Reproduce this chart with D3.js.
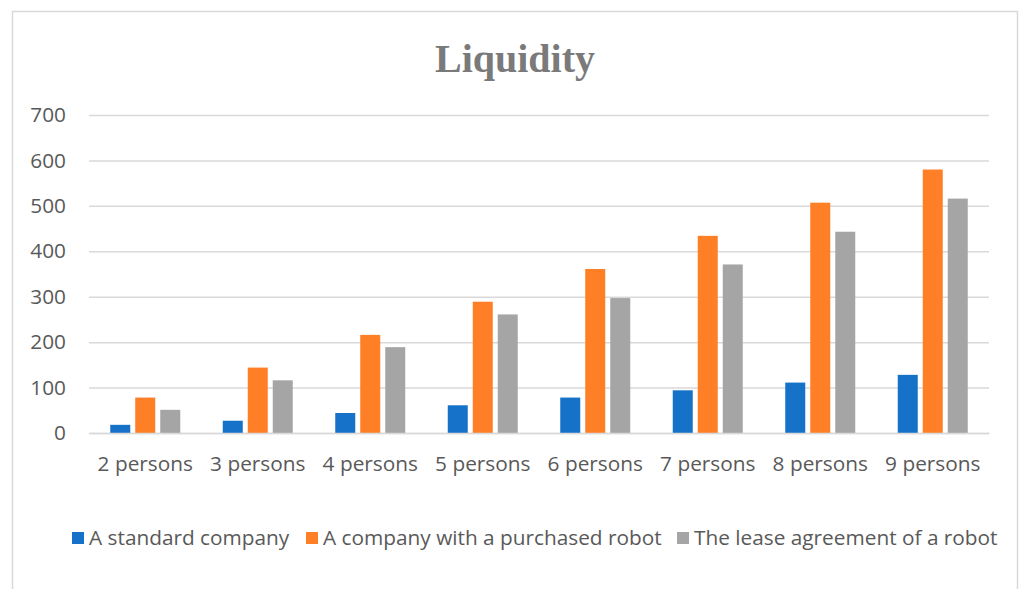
<!DOCTYPE html>
<html>
<head>
<meta charset="utf-8">
<script src="https://cdn.jsdelivr.net/npm/d3@7"></script>
<style>
  body { margin: 0; background: #fff; }
  svg { display: block; }
</style>
</head>
<body>
<script>
// data
const categories = ["2 persons","3 persons","4 persons","5 persons","6 persons","7 persons","8 persons","9 persons"];
const seriesNames = ["A standard company","A company with a purchased robot","The lease agreement of a robot"];
const standardCompany = [18, 27, 44, 61, 78, 94, 111, 128];
const purchasedRobot = [78, 144, 216, 289, 361, 434, 507, 580];
const leaseRobot = [51, 116, 189, 261, 297, 371, 443, 516];
const yTicks = [0, 100, 200, 300, 400, 500, 600, 700];

const seriesValues = [standardCompany, purchasedRobot, leaseRobot];
const colors = ["#1672c8", "#ff7f27", "#a5a5a5"];

const W = 1020, H = 589;
const svg = d3.select("body").append("svg")
  .attr("width", W)
  .attr("height", H);

// chart frame
svg.append("rect")
  .attr("x", 12.5).attr("y", 11.5)
  .attr("width", 1005).attr("height", 600)
  .attr("fill", "#fff")
  .attr("stroke", "#d9d9d9")
  .attr("stroke-width", 1.5);

svg.append("text")
  .attr("x", 515).attr("y", 72)
  .attr("text-anchor", "middle")
  .attr("font-family", "Liberation Serif")
  .attr("font-weight", "bold")
  .attr("font-size", "40px")
  .attr("fill", "#7a7a7a")
  .text("Liquidity");

const plotLeft = 89, plotRight = 989, plotTop = 115, plotBottom = 433;

const x0 = d3.scaleBand()
  .domain(categories)
  .range([plotLeft, plotRight])
  .padding(0);

const groupW = 70;
const off = (x0.bandwidth() - groupW) / 2;
const x1 = d3.scaleBand()
  .domain(d3.range(seriesNames.length))
  .range([off, off + groupW])
  .paddingInner(0.2);

const y = d3.scaleLinear()
  .domain([0, 700])
  .range([plotBottom, plotTop]);

const font = "Open Sans";
const fs = "20.8px";

// gridlines
const yAxis = d3.axisLeft(y)
  .tickValues(yTicks)
  .tickSize(-(plotRight - plotLeft))
  .tickPadding(23)
  .tickFormat(d3.format("d"));

const gy = svg.append("g")
  .attr("transform", `translate(${plotLeft},0)`)
  .call(yAxis);
gy.select(".domain").remove();
gy.selectAll(".tick line")
  .attr("stroke", "#d9d9d9")
  .attr("stroke-width", 1.5);
gy.selectAll(".tick text")
  .attr("font-family", font)
  .attr("font-size", fs)
  .attr("fill", "#595959");

// bars
const groups = svg.append("g")
  .selectAll("g")
  .data(categories)
  .join("g")
  .attr("transform", d => `translate(${x0(d)},0)`);

groups.selectAll("rect")
  .data((d, i) => seriesValues.map((s, k) => ({k: k, v: s[i]})))
  .join("rect")
  .attr("x", d => x1(d.k))
  .attr("y", d => y(d.v))
  .attr("width", x1.bandwidth())
  .attr("height", d => y(0) - y(d.v))
  .attr("fill", d => colors[d.k]);

// x axis
const xAxis = d3.axisBottom(x0).tickSize(0).tickPadding(23);
const gx = svg.append("g")
  .attr("transform", `translate(0,${plotBottom})`)
  .call(xAxis);
gx.select(".domain")
  .attr("stroke", "#d9d9d9")
  .attr("stroke-width", 1.5);
gx.selectAll(".tick text")
  .attr("font-family", font)
  .attr("font-size", fs)
  .attr("fill", "#595959");

// legend
const legendX = [72, 306, 677];
const legend = svg.append("g")
  .selectAll("g")
  .data(seriesNames)
  .join("g")
  .attr("transform", (d, i) => `translate(${legendX[i]},532)`);
legend.append("rect")
  .attr("width", 12).attr("height", 12)
  .attr("fill", (d, i) => colors[i]);
legend.append("text")
  .attr("x", 17).attr("y", 13)
  .attr("font-family", font)
  .attr("font-size", fs)
  .attr("fill", "#595959")
  .text(d => d);
</script>
</body>
</html>
